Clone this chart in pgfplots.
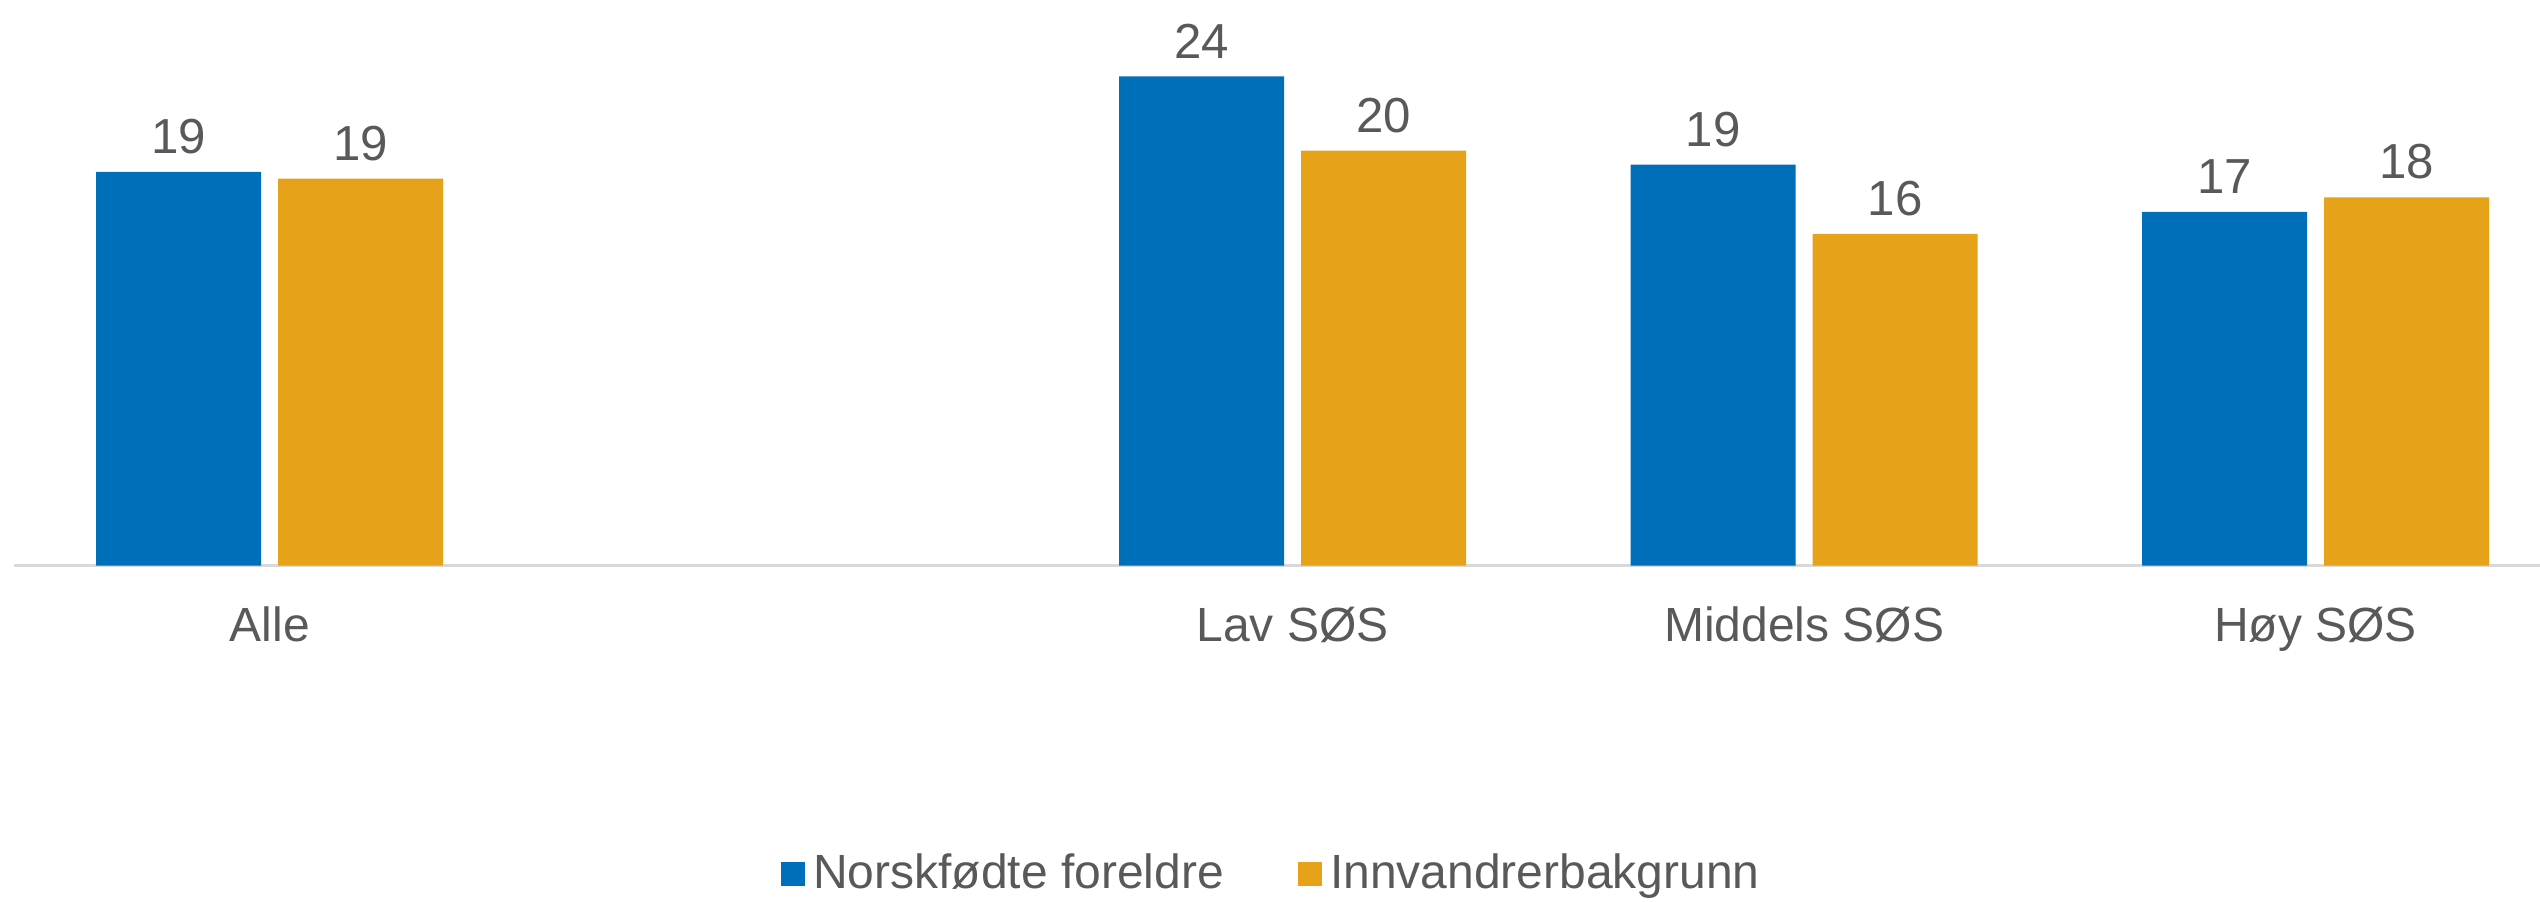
\documentclass[border=0pt]{standalone}
\usepackage{pgfplots}
\pgfplotsset{compat=1.18}
\usepackage{fontspec}
\setmainfont{Liberation Sans}
\definecolor{cblue}{RGB}{0,111,185}
\definecolor{corange}{RGB}{230,162,25}
\definecolor{ctext}{RGB}{89,89,89}
\definecolor{caxis}{RGB}{217,217,217}
\begin{document}
\begin{tikzpicture}
\useasboundingbox (0,0) rectangle (635pt,225.25pt);
\begin{axis}[
  at={(3.5pt,83.85pt)}, anchor=south west,
  scale only axis, width=631.5pt, height=141.4pt,
  xmin=-0.5, xmax=4.439, ymin=0, ymax=27.36,
  enlargelimits=false, clip=false,
  ybar=4.25pt, bar width=41.25pt,
  axis x line*=bottom, hide y axis,
  x axis line style={draw=caxis, line width=0.75pt, -},
  xtick={0,2,3,4},
  xticklabels={Alle, Lav SØS, Middels SØS, Høy SØS},
  major tick length=0pt,
  xticklabel style={font=\fontsize{12}{14}\selectfont, text=ctext, anchor=base, inner sep=0pt, yshift=-18.9pt},
  nodes near coords,
  point meta=y,
  /pgf/number format/assume math mode=true,
  /pgf/number format/fixed, /pgf/number format/precision=0,
  nodes near coords style={font=\fontsize{12.3}{14}\selectfont, text=ctext, anchor=south, inner sep=0pt, yshift=4.3pt},
  legend columns=2,
  legend style={at={(0.499,-0.545)}, anchor=center, draw=none, fill=none,
    font=\fontsize{12}{14}\selectfont, text=ctext,
    /tikz/every even column/.append style={column sep=16.5pt}},
  legend image code/.code={\fill[#1] (-2.55pt,-3pt) rectangle (3.45pt,3pt);},
]
\addplot[fill=cblue, draw=none] coordinates {(0,19.04) (2,23.66) (3,19.40) (4,17.11)};
\addplot[fill=corange, draw=none] coordinates {(0,18.72) (2,20.07) (3,16.05) (4,17.81)};
\legend{Norskfødte foreldre, Innvandrerbakgrunn}
\end{axis}
\end{tikzpicture}
\end{document}
